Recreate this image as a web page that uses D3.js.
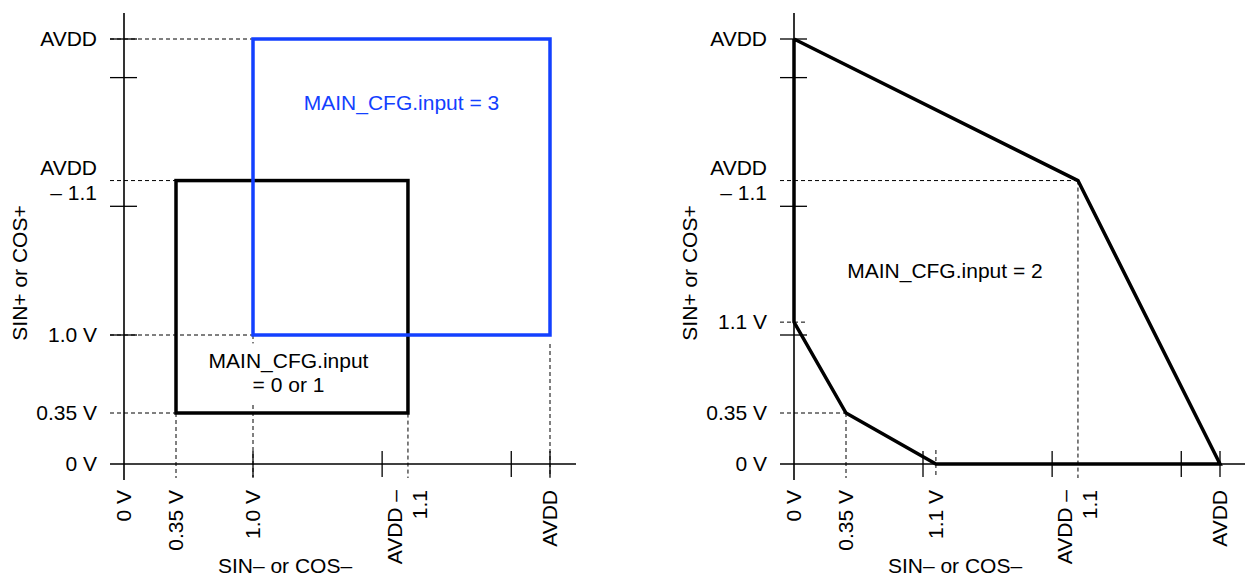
<!DOCTYPE html>
<html><head><meta charset="utf-8">
<script src="https://cdn.jsdelivr.net/npm/d3@7"></script>
<style>
body{margin:0;background:#fff}
svg{display:block}
text{font-family:"Liberation Sans",Arial,Helvetica,sans-serif;font-size:21px;fill:#000}
</style>
</head><body>
<svg id="c" width="1245" height="579"></svg>
<script>
// ---------- data ----------
const AVDD = 3.3;                       // volts (symbolic supply level)
const scaleBreaks = [0, 0.35, 1.0, AVDD];
const plainTicks = [1.0, 2.0, 3.0, AVDD];

const leftXLabels  = [{v:0,lines:["0 V"]},{v:0.35,lines:["0.35 V"]},{v:1.0,lines:["1.0 V"]},{v:2.2,lines:["AVDD –","1.1"]},{v:AVDD,lines:["AVDD"]}];
const leftYLabels  = [{v:0,lines:["0 V"]},{v:0.35,lines:["0.35 V"]},{v:1.0,lines:["1.0 V"]},{v:2.2,lines:["AVDD","– 1.1"]},{v:AVDD,lines:["AVDD"]}];
const rightXLabels = [{v:0,lines:["0 V"]},{v:0.35,lines:["0.35 V"]},{v:1.1,lines:["1.1 V"]},{v:2.2,lines:["AVDD –","1.1"]},{v:AVDD,lines:["AVDD"]}];
const rightYLabels = [{v:0,lines:["0 V"]},{v:0.35,lines:["0.35 V"]},{v:1.1,lines:["1.1 V"]},{v:2.2,lines:["AVDD","– 1.1"]},{v:AVDD,lines:["AVDD"]}];

const input3Rect  = [1.0, 1.0, AVDD, AVDD];      // x0, y0, x1, y1
const input01Rect = [0.35, 0.35, 2.2, 2.2];
const input2Polygon = [[0, AVDD], [2.2, 2.2], [AVDD, 0], [1.1, 0], [0.35, 0.35], [0, 1.1], [0, AVDD]];

const input3Label  = {x: 2.15, y: 2.8, lines: ["MAIN_CFG.input = 3"]};
const input01Label = {x: 1.275, y: 0.68, lines: ["MAIN_CFG.input", "= 0 or 1"]};
const input2Label  = {x: 1.17, y: 1.5, lines: ["MAIN_CFG.input = 2"]};

// dashed guides: horizontal {y, to}, vertical {x, from}
const leftHGuides  = [{y: AVDD, to: 1.0}, {y: 2.2, to: 0.35}, {y: 1.0, to: 1.0}, {y: 0.35, to: 0.35}];
const leftVGuides  = [{x: 0.35, from: 0.35}, {x: 1.0, from: 1.0}, {x: 2.2, from: 2.2, gap: true}, {x: AVDD, from: 1.0, gap: true}];
const rightHGuides = [{y: 2.2, to: 2.2}, {y: 1.1, to: null}, {y: 0.35, to: 0.35}];
const rightVGuides = [{x: 0.35, from: 0.35}, {x: 1.1, from: null}, {x: 2.2, from: 2.2}];

const xTitle = "SIN– or COS–";
const yTitle = "SIN+ or COS+";
const BLUE = "#1340ff";

// ---------- drawing ----------
const svg = d3.select("#c");

function panel(off, opts) {
  const x = d3.scaleLinear().domain(scaleBreaks).range([124, 176, 253, 550].map(d => d + off));
  const y = d3.scaleLinear().domain(scaleBreaks).range([464, 413, 335, 39]);
  const g = svg.append("g");
  const x0 = x(0), y0 = y(0);

  // dashed guides
  const dash = "4,3";
  opts.hGuides.forEach(d => {
    g.append("line").attr("x1", x0 - 14).attr("x2", d.to === null ? x0 + 13 : x(d.to))
      .attr("y1", y(d.y)).attr("y2", y(d.y))
      .attr("stroke", "#000").attr("stroke-width", 1).attr("stroke-dasharray", dash);
  });
  opts.vGuides.forEach(d => {
    const top = d.from === null ? y0 - 14 : y(d.from) + (d.gap ? 9 : 0);
    g.append("line").attr("x1", x(d.x)).attr("x2", x(d.x))
      .attr("y1", top).attr("y2", y0 + 14)
      .attr("stroke", "#000").attr("stroke-width", 1).attr("stroke-dasharray", dash);
  });

  // axes
  g.append("line").attr("x1", x0 - 14).attr("x2", opts.xEnd).attr("y1", y0).attr("y2", y0)
    .attr("stroke", "#000").attr("stroke-width", 1.6);
  g.append("line").attr("x1", x0).attr("x2", x0).attr("y1", y(AVDD) - 26).attr("y2", y0 + 16)
    .attr("stroke", "#000").attr("stroke-width", 1.6);
  plainTicks.forEach(v => {
    g.append("line").attr("x1", x0 - 14).attr("x2", x0 + 13).attr("y1", y(v)).attr("y2", y(v))
      .attr("stroke", "#000").attr("stroke-width", 1.3);
    g.append("line").attr("x1", x(v)).attr("x2", x(v)).attr("y1", y0 - 13).attr("y2", y0 + 13)
      .attr("stroke", "#000").attr("stroke-width", 1.3);
  });

  // y tick labels
  opts.yLabels.forEach(d => {
    const t = g.append("text").attr("text-anchor", "end")
      .attr("transform", `translate(${x0 - 27},${y(d.v)})`);
    const n = d.lines.length;
    d.lines.forEach((s, i) => {
      t.append("tspan").attr("x", 0).attr("y", (i - (n - 1) / 2) * 25 + 7).text(s);
    });
  });
  // x tick labels (rotated)
  opts.xLabels.forEach(d => {
    const t = g.append("text").attr("text-anchor", "end")
      .attr("transform", `translate(${x(d.v)},${y0 + 26}) rotate(-90)`);
    const n = d.lines.length;
    d.lines.forEach((s, i) => {
      t.append("tspan").attr("x", 0).attr("y", (i - (n - 1) / 2) * 25 + 7).text(s);
    });
  });

  // titles
  g.append("text").attr("text-anchor", "middle")
    .attr("transform", `translate(${x0 - 104},273) rotate(-90)`).attr("dy", "0.35em").text(yTitle);
  g.append("text").attr("text-anchor", "middle")
    .attr("x", x0 + 161).attr("y", 573).text(xTitle);

  return {g, x, y};
}

function label(g, x, y, d, color, bg) {
  const n = d.lines.length;
  const t = g.append("text").attr("text-anchor", "middle").style("fill", color)
    .attr("transform", `translate(${x(d.x)},${y(d.y)})`);
  d.lines.forEach((s, i) => {
    t.append("tspan").attr("x", 0).attr("y", (i - (n - 1) / 2) * 24 + 7).text(s);
  });
  if (bg) {
    const b = t.node().getBBox();
    g.insert("rect", () => t.node())
      .attr("x", x(d.x) + b.x - 4).attr("y", y(d.y) + b.y - 6)
      .attr("width", b.width + 8).attr("height", b.height + 12).attr("fill", "#fff");
  }
}

// left panel
const L = panel(0, {hGuides: leftHGuides, vGuides: leftVGuides, yLabels: leftYLabels, xLabels: leftXLabels, xEnd: 576});
function rect(p, r, color) {
  p.g.append("rect")
    .attr("x", p.x(r[0])).attr("y", p.y(r[3]))
    .attr("width", p.x(r[2]) - p.x(r[0])).attr("height", p.y(r[1]) - p.y(r[3]))
    .attr("fill", "none").attr("stroke", color).attr("stroke-width", 3.5);
}
rect(L, input01Rect, "#000");
rect(L, input3Rect, BLUE);
label(L.g, L.x, L.y, input3Label, BLUE, false);
label(L.g, L.x, L.y, input01Label, "#000", true);

// right panel
const R = panel(670, {hGuides: rightHGuides, vGuides: rightVGuides, yLabels: rightYLabels, xLabels: rightXLabels, xEnd: 1245});
R.g.append("path")
  .attr("d", d3.line().x(d => R.x(d[0])).y(d => R.y(d[1]))(input2Polygon))
  .attr("fill", "none").attr("stroke", "#000").attr("stroke-width", 3.5).attr("stroke-linejoin", "miter");
label(R.g, R.x, R.y, input2Label, "#000", false);
</script>
</body></html>
